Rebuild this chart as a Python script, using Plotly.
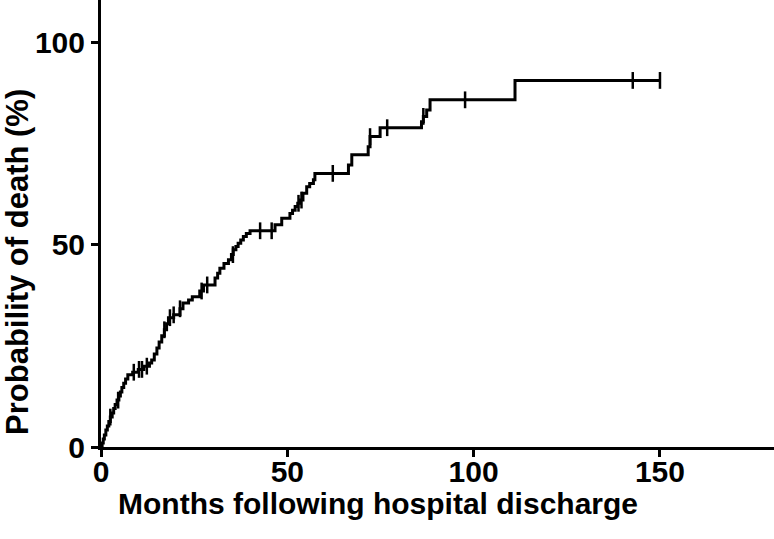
import numpy as np
import plotly.graph_objects as go

# Event times (months) and cumulative probability of death (%) after each event
event_months = [0, 0.3, 0.6, 0.9, 1.3, 1.7, 2.1, 2.5, 3.0, 3.4, 3.8, 4.3, 4.8, 5.2, 5.6, 6.1, 6.6, 7.2,
                8.5, 10.0, 11.5, 13.0, 13.6, 14.3, 15.0, 15.6, 16.3, 17.0, 17.6, 18.1, 19.5,
                21.2, 22.0, 23.5, 24.5, 26.5, 27.5, 30.6, 31.3, 31.9, 33.0, 34.2, 35.0, 35.5,
                36.2, 36.8, 37.5, 38.2, 39.0, 40.0, 46.7, 48.5, 50.7, 51.4, 52.1, 52.8, 53.4,
                54.2, 55.2, 56.0, 57.0, 57.4, 66.4, 67.3, 71.7, 72.2, 74.9, 86.0, 86.5, 87.4,
                88.3, 111.1, 150.0]
death_prob = [0, 1.0, 2.0, 3.0, 4.2, 5.2, 6.3, 7.4, 8.4, 9.5, 10.5, 11.6, 12.6, 13.6, 14.7, 15.8, 16.8, 17.9,
              18.5, 19.2, 20.0, 20.8, 21.5, 23.0, 24.5, 26.0, 27.5, 29.0, 30.5, 32.0, 32.7,
              34.2, 35.6, 36.4, 37.2, 38.6, 40.1, 41.8, 43.0, 44.2, 45.4, 46.3, 47.6, 48.8,
              49.6, 50.4, 51.2, 52.1, 52.8, 53.5, 55.0, 56.6, 57.8, 58.6, 59.5, 60.3, 61.1,
              62.8, 64.4, 65.2, 66.1, 67.7, 69.8, 72.3, 74.3, 76.8, 79.0, 80.5, 81.8, 83.4,
              85.9, 90.7, 90.7]

# Censored observations (months)
censor_months = [2.5, 4.6, 8.8, 10.2, 11.0, 12.3, 17.0, 18.5, 19.5, 21.2, 27.0, 28.5, 35.4,
                 42.7, 45.8, 53.0, 53.8, 62.2, 72.2, 76.8, 86.5, 97.7, 142.7, 150.0]

x_ticks = [0, 50, 100, 150]
y_ticks = [0, 50, 100]
x_title = "Months following hospital discharge"
y_title = "Probability of death (%)"

em = np.array(event_months)
dp = np.array(death_prob)
idx = np.searchsorted(em, np.array(censor_months), side="right") - 1
censor_prob = dp[idx]

font_fam = "Liberation Sans, Arial, sans-serif"
tick_font = dict(size=30, family=font_fam, weight="bold", color="black")
title_font = dict(size=30, family=font_fam, weight="bold", color="black")

fig = go.Figure()
fig.add_trace(go.Scatter(x=event_months, y=death_prob, mode="lines",
                         line=dict(color="black", width=3, shape="hv"),
                         showlegend=False, hoverinfo="skip"))
fig.add_trace(go.Scatter(x=censor_months, y=censor_prob, mode="markers",
                         marker=dict(symbol="line-ns", size=12,
                                     line=dict(color="black", width=2.5)),
                         showlegend=False, hoverinfo="skip"))

fig.update_layout(
    width=774, height=539,
    margin=dict(l=101, r=0, t=0, b=92),
    paper_bgcolor="white", plot_bgcolor="white",
    font=dict(family=font_fam, color="black", size=30, weight="bold"),
    xaxis=dict(range=[0, 180.6], tickvals=x_ticks, ticks="outside", ticklen=7,
               tickwidth=3, tickcolor="black", showline=True, linewidth=3,
               linecolor="black", showgrid=False, zeroline=False,
               tickfont=tick_font, ticklabelstandoff=-11),
    yaxis=dict(range=[0, 110.6], tickvals=y_ticks, ticks="outside", ticklen=7,
               tickwidth=3, tickcolor="black", showline=True, linewidth=3,
               linecolor="black", showgrid=False, zeroline=False,
               tickfont=tick_font),
    annotations=[
        dict(text=x_title, xref="paper", yref="paper", x=0.4116, y=-0.126,
             xanchor="center", yanchor="middle", showarrow=False, font=title_font),
        dict(text=y_title, xref="paper", yref="paper", x=-0.1233, y=0.414,
             xanchor="center", yanchor="middle", textangle=-90, showarrow=False,
             font=dict(size=31, family=font_fam, weight="bold", color="black")),
    ],
)

fig.write_html("out.html", config={"displayModeBar": False},
               post_script="document.body.style.margin='0';")
